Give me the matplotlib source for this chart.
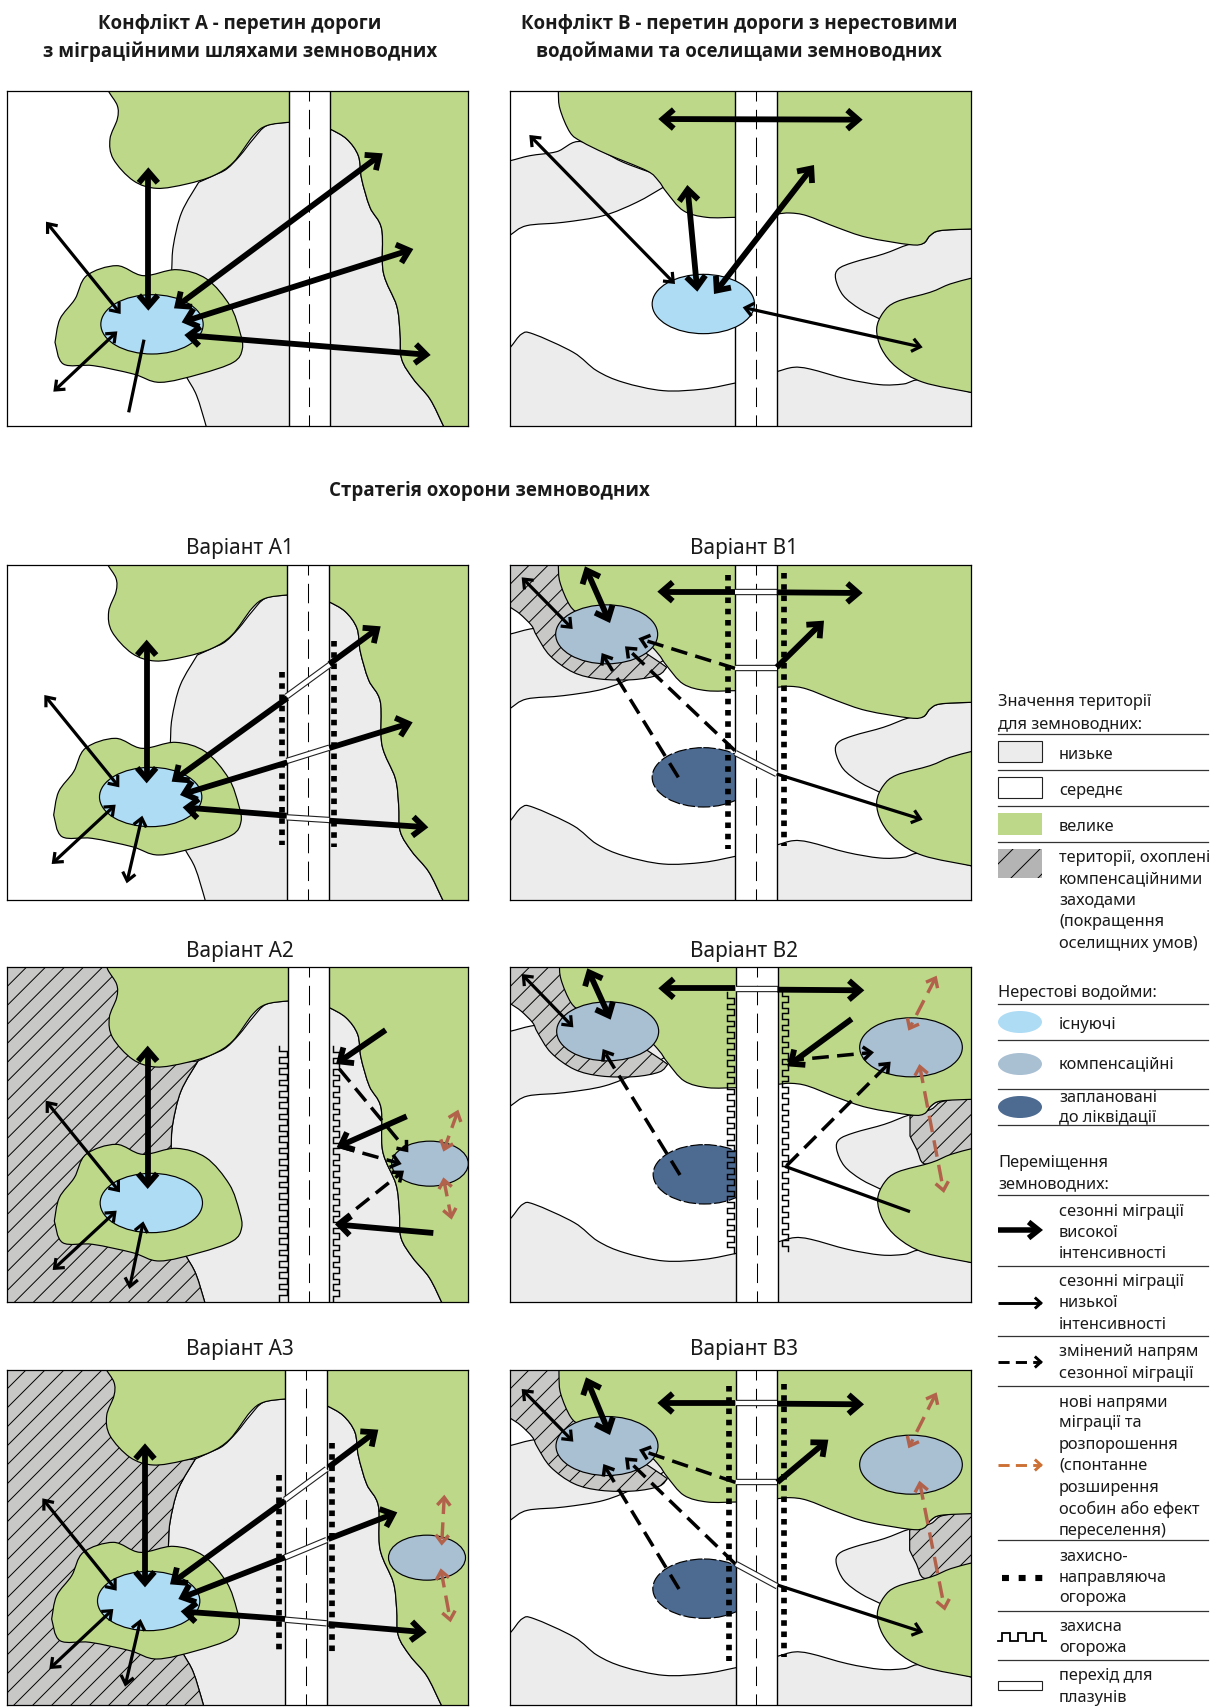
import numpy as np
import matplotlib
matplotlib.use('Agg')
import matplotlib.pyplot as plt
from matplotlib.path import Path
from matplotlib.patches import PathPatch, Ellipse, Rectangle

plt.rcParams['font.family'] = ['Noto Sans', 'DejaVu Sans']
plt.rcParams['lines.scale_dashes'] = False

W, H = 1215, 1708

GREY = '#ececec'
GREEN = '#bcd888'
POND = '#aedcf5'
COMP = '#a9bfd2'
PLANNED = '#4d6a91'
HATCH = '#c8c8c7'
RUST = '#b2624a'
ORANGE = '#cc7035'

# все координати - у пікселях збільшеного (x3) знімка
# контури території, сценарій A
A_GREEN_TOP = [(318, 240), (325, 275), (352, 320), (352, 360), (330, 420), (340, 480), (400, 545), (470, 568),
               (560, 555), (640, 530), (700, 490), (760, 410), (800, 380), (865, 370), (900, 370)]
A_RIGHT_EDGE = [(1345, 1310), (1330, 1280), (1290, 1200), (1240, 1140), (1205, 1080), (1200, 1000), (1190, 920),
                (1150, 820), (1145, 690), (1110, 625), (1085, 540), (1075, 470), (1040, 420), (990, 390), (960, 380)]
A_GREY_TOP = [(900, 370), (865, 370), (800, 380), (760, 420), (720, 470), (680, 510), (640, 530), (596, 550)]
A_GREY_LEFT = [(596, 550), (545, 640), (520, 740), (515, 815), (510, 900), (530, 1080), (560, 1135), (590, 1190),
               (618, 1280), (625, 1310)]
A_POND_GREEN = [(165, 1030), (180, 960), (225, 900), (260, 830), (350, 800), (430, 830), (530, 812), (620, 840),
                (690, 920), (720, 1000), (727, 1050), (700, 1090), (600, 1125), (480, 1150), (400, 1125),
                (280, 1100), (190, 1095), (165, 1030)]
A_POND = (456, 976)
A_ROAD = (866, 990, 928)

# контури території, сценарій B
B_GREEN_TOP = [(205, 190), (205, 275), (210, 330), (240, 400), (275, 428), (350, 465), (470, 515), (505, 545),
               (530, 580), (580, 635), (650, 655), (736, 655), (770, 655)]
B_GREEN_RIGHT = [(830, 648), (860, 645), (900, 642), (950, 650), (1040, 685), (1130, 715), (1260, 737), (1300, 733),
                 (1320, 710), (1350, 695), (1442, 690), (1470, 690)]
B_GREY_TL_UP = [(30, 490), (61, 485), (120, 470), (200, 458), (275, 428), (400, 490), (540, 540)]
B_GREY_TL_LOW = [(518, 566), (440, 610), (340, 650), (220, 670), (110, 680), (61, 708), (30, 730)]
B_GREY_BL = [(30, 1075), (61, 1045), (95, 1005), (130, 1005), (250, 1060), (320, 1115), (400, 1150), (520, 1175),
             (640, 1170), (736, 1152), (770, 1145)]
B_GREY_BR = [(830, 1125), (860, 1118), (910, 1105), (960, 1110), (1070, 1140), (1170, 1157), (1240, 1155),
             (1300, 1143), (1442, 1180), (1470, 1185)]
B_GREY_R = [(1470, 690), (1442, 690), (1350, 695), (1320, 710), (1300, 733), (1255, 737), (1180, 765), (1090, 790),
            (1045, 810), (1037, 840), (1060, 890), (1110, 930), (1170, 960)]
B_GREEN_BR = [(1470, 830), (1442, 838), (1380, 855), (1320, 880), (1220, 908), (1180, 940), (1160, 990), (1175, 1050),
              (1220, 1105), (1300, 1150), (1442, 1180), (1470, 1185)]
B_POND = (640, 915)
B_ROAD = (736, 860, 797)
B_HATCH_TL_UP = [(30, 200), (205, 200), (330, 430), (530, 585)]
B_HATCH_TL_LOW = [(530, 585), (505, 608), (430, 622), (330, 620), (250, 600), (180, 550), (140, 490), (125, 460),
                  (90, 425), (61, 405), (30, 385)]
B_HATCH_R = [(1257, 739), (1320, 720), (1360, 695), (1470, 692), (1470, 830), (1380, 860), (1302, 884), (1277, 840),
             (1257, 800)]

# стрілки: x0, y0, x1, y1, вістря
TOP_A_THICK = [(445, 505, 445, 935, 'both'), (1148, 463, 522, 928, 'both'), (1240, 750, 545, 970, 'both'),
               (1292, 1068, 553, 1008, 'both')]
TOP_A_THIN = [(138, 668, 362, 945, 'both'), (160, 1178, 352, 997, 'both'), (386, 1240, 432, 1022, 'none')]

TOP_B_THICK = [(505, 360, 1118, 362, 'both'), (592, 558, 622, 878, 'both'), (972, 498, 672, 885, 'both')]
TOP_B_THIN = [(118, 408, 555, 855, 'both'), (758, 925, 1298, 1045, 'both')]

A1_THICK = [(440, 272, 440, 703, 'both'), (988, 345, 1142, 232, 'end'), (862, 447, 515, 698, 'end'),
            (988, 597, 1238, 520, 'end'), (862, 640, 540, 738, 'end'), (988, 815, 1285, 835, 'end'),
            (860, 800, 548, 775, 'end')]
A1_THIN = [(133, 438, 358, 715, 'both'), (155, 945, 347, 767, 'both'), (380, 1003, 427, 800, 'both')]
A1_DOTTED = [(845, 370, 888), (1002, 275, 895)]
A1_CROSS = [(860, 442, 990, 347), (860, 636, 988, 596), (860, 805, 988, 813)]

A2_THICK = [(443, 290, 443, 720, 'both'), (1157, 243, 1008, 345, 'end'), (1220, 502, 1010, 595, 'end'),
            (1300, 852, 1005, 826, 'end')]
A2_THIN = [(137, 455, 360, 730, 'both'), (158, 963, 350, 785, 'both'), (388, 1020, 430, 817, 'both')]
A2_DASH = [(1018, 360, 1225, 610, 'end'), (1015, 592, 1205, 645, 'end'), (1010, 826, 1212, 665, 'end')]
A2_RUST = [(1375, 482, 1330, 608, 'both'), (1330, 685, 1355, 812, 'both')]
A2_WAVE = [(838, 860, 290, 1040), (998, 1018, 292, 1042)]
A2_COMP = [(1290, 644, 230, 135)]

A3_THICK = [(435, 283, 435, 715, 'both'), (985, 355, 1135, 242, 'end'), (855, 455, 510, 706, 'end'),
            (985, 570, 1192, 490, 'end'), (855, 625, 535, 750, 'end'), (985, 825, 1280, 850, 'end'),
            (855, 810, 542, 787, 'end')]
A3_THIN = [(127, 448, 350, 725, 'both'), (148, 960, 340, 780, 'both'), (375, 1013, 422, 810, 'both')]
A3_RUST = [(1333, 437, 1325, 590, 'both'), (1322, 658, 1352, 820, 'both')]
A3_DOTTED = [(838, 378, 905), (995, 283, 910)]
A3_CROSS = [(855, 452, 980, 360), (855, 625, 980, 573), (855, 812, 980, 823)]
A3_COMP = [(1281, 626, 231, 135)]

B1_THICK = [(706, 128, 472, 128, 'end'), (830, 130, 1088, 132, 'end'), (255, 52, 330, 222, 'both'),
            (830, 355, 972, 215, 'end')]
B1_THIN = [(65, 85, 218, 240, 'both'), (830, 675, 1268, 812, 'end')]
B1_DASH = [(535, 685, 305, 312, 'end'), (705, 605, 375, 292, 'end'), (705, 358, 415, 268, 'end')]
B1_DOTTED = [(685, 78, 900), (851, 72, 890)]
B1_CROSS = [(706, 128, 830, 128), (706, 358, 830, 358), (706, 612, 830, 675)]
B1_COMP = [(320, 256, 306, 177)]

B2_THICK = [(706, 118, 475, 118, 'end'), (832, 122, 1093, 124, 'end'), (262, 58, 332, 212, 'both'),
            (1055, 210, 862, 352, 'end')]
B2_THIN = [(65, 75, 220, 235, 'both'), (1230, 788, 855, 652, 'none')]
B2_DASH = [(540, 678, 308, 300, 'end'), (860, 650, 1172, 338, 'end'), (862, 335, 1122, 310, 'end')]
B2_RUST = [(1310, 80, 1225, 245, 'both'), (1258, 345, 1332, 732, 'both')]
B2_WAVE = [(680, 702, 130, 910), (845, 865, 125, 905)]
B2_CROSS = [(709, 120, 833, 120)]
B2_COMP = [(323, 247, 306, 177), (1233, 295, 308, 177)]

B3_THICK = [(706, 162, 472, 162, 'end'), (832, 164, 1092, 166, 'end'), (258, 85, 330, 258, 'both'),
            (832, 400, 985, 272, 'end')]
B3_THIN = [(65, 120, 220, 278, 'both'), (832, 708, 1270, 850, 'end')]
B3_DASH = [(537, 720, 310, 345, 'end'), (706, 645, 375, 325, 'end'), (706, 400, 417, 302, 'end')]
B3_RUST = [(1310, 130, 1225, 298, 'both'), (1258, 395, 1335, 785, 'both')]
B3_DOTTED = [(687, 112, 935), (853, 105, 925)]
B3_CROSS = [(708, 163, 832, 163), (708, 400, 832, 400), (708, 645, 832, 712)]
B3_COMP = [(321, 291, 306, 177), (1233, 347, 308, 177)]

TITLE_A = ['Конфлікт А - перетин дороги', 'з міграційними шляхами земноводних']
TITLE_B = ['Конфлікт В - перетин дороги з нерестовими', 'водоймами та оселищами земноводних']
TITLE_MID = 'Стратегія охорони земноводних'

LEG_AREA_HEAD = ['Значення території', 'для земноводних:']
LEG_AREA = ['низьке', 'середнє', 'велике']
LEG_COMP = ['території, охоплені', 'компенсаційними', 'заходами', '(покращення', 'оселищних умов)']
LEG_POND_HEAD = 'Нерестові водойми:'
LEG_MOVE_HEAD = ['Переміщення', 'земноводних:']


def part_verts(pts):
    # крива через точки (Catmull-Rom у вигляді кубічних Безьє)
    pts = np.array(pts, float)
    n = len(pts)
    verts, codes = [pts[0]], [None]
    for i in range(n - 1):
        p0 = pts[max(i - 1, 0)]
        p1 = pts[i]
        p2 = pts[i + 1]
        p3 = pts[min(i + 2, n - 1)]
        verts += [p1 + (p2 - p0) / 6, p2 - (p3 - p1) / 6, p2]
        codes += [Path.CURVE4] * 3
    return verts, codes


def shape(parts, dx=0, dy=0):
    verts, codes = [], []
    for part in parts:
        v, c = part_verts(part)
        c[0] = Path.LINETO if verts else Path.MOVETO
        verts += v
        codes += c
    verts.append(verts[0])
    codes.append(Path.CLOSEPOLY)
    return Path(np.array(verts) + (dx, dy), codes)


def fill(ax, parts, color, dx=0, dy=0, z=1):
    p = PathPatch(shape(parts, dx, dy), facecolor=color, edgecolor='black', lw=0.85, zorder=z)
    ax.add_patch(p)
    return p


def hatch_lines(ax, patch, step, z, lw=0.7):
    x0, x1 = ax.get_xlim()
    y1, y0 = ax.get_ylim()
    for c in np.arange(x0 + y0 - 10 * step, x1 + y1, step):
        ln, = ax.plot([c - y0, c - y1], [y0, y1], color='black', lw=lw, zorder=z)
        ln.set_clip_path(patch)


def arrow(ax, a, w, hl, hw, color='black', dash=None, k=3, z=10):
    x0, y0, x1, y1, heads = a
    p0 = np.array([x0, y0], float)
    p1 = np.array([x1, y1], float)
    u = (p1 - p0) / np.hypot(*(p1 - p0))
    n = np.array([-u[1], u[0]])
    miter = (w / 2) * np.hypot(hl, hw) / hw * k
    lw = w * 0.72
    start, end = p0, p1
    tips = []
    if heads in ('both', 'end'):
        tips.append((p1, u))
        end = p1 - u * miter
    if heads == 'both':
        tips.append((p0, -u))
        start = p0 + u * miter
    ln, = ax.plot([start[0], end[0]], [start[1], end[1]], color=color, lw=lw, zorder=z, solid_capstyle='butt',
                  dash_capstyle='butt')
    if dash:
        ln.set_linestyle(dash)
    for tip, d in tips:
        v = tip - d * miter
        a1 = v - d * hl * k + n * hw * k
        a2 = v - d * hl * k - n * hw * k
        ax.plot([a1[0], v[0], a2[0]], [a1[1], v[1], a2[1]], color=color, lw=lw, zorder=z,
                solid_joinstyle='miter', solid_capstyle='butt')


def wave(ax, xl, xr, y0, y1, step=17, lw=1.05, z=8):
    xs, ys = [], []
    side = 0
    for y in np.arange(y0, y1, step):
        xs += [xl if side == 0 else xr] * 2
        ys += [y, y + step]
        side = 1 - side
    ax.plot(xs, ys, color='black', lw=lw, zorder=z, solid_joinstyle='miter')


def draw_arrows(ax, thick=(), thin=(), dashed=(), rust=()):
    for a in thin:
        arrow(ax, a, 3.2, 8, 6.5)
    for a in dashed:
        arrow(ax, a, 3.5, 8, 6.5, dash=(0, (12, 6)))
    for a in thick:
        arrow(ax, a, 5.8, 11, 9.5)
    for a in rust:
        arrow(ax, a, 3.4, 8, 6.5, color=RUST, dash=(0, (12, 6)))


def make_panel(left, top, xlim, ylim):
    ax = fig.add_axes([left / W, 1 - (top + (ylim[1] - ylim[0]) / 3) / H, (xlim[1] - xlim[0]) / 3 / W,
                       (ylim[1] - ylim[0]) / 3 / H])
    ax.set_xlim(xlim)
    ax.set_ylim(ylim[1], ylim[0])
    ax.set_xticks([])
    ax.set_yticks([])
    ax.autoscale(False)
    for s in ax.spines.values():
        s.set_linewidth(0.9)
        s.set_zorder(30)
    return ax


def road(ax, rd, dx, z=5):
    ax.add_patch(Rectangle((rd[0] + dx, -100), rd[1] - rd[0], 2000, facecolor='white', edgecolor='none', zorder=z))
    ax.axvline(rd[0] + dx, color='black', lw=1.0, zorder=z)
    ax.axvline(rd[1] + dx, color='black', lw=1.0, zorder=z)
    ln = ax.axvline(rd[2] + dx, color='black', lw=0.75, zorder=z)
    ln.set_linestyle((6, (14, 6)))


def fences(ax, dotted=(), waves=(), cross=()):
    for x, y0, y1 in dotted:
        ln, = ax.plot([x, x], [y0, y1], color='black', lw=4.1, zorder=7, dash_capstyle='butt')
        ln.set_linestyle((0, (4.0, 4.1)))
    for xl, xr, y0, y1 in waves:
        wave(ax, xl, xr, y0, y1)
    for x0, y0, x1, y1 in cross:
        ax.plot([x0, x1], [y0, y1], color='#222222', lw=4.6, zorder=9, solid_capstyle='butt')
        ax.plot([x0, x1], [y0, y1], color='white', lw=3.0, zorder=9, solid_capstyle='butt')


def base_a(ax, dx, dy, left_hatch=False):
    corners_top = [(900, 240)]
    fill(ax, [A_RIGHT_EDGE, A_GREY_TOP, A_GREY_LEFT], GREY, dx, dy, z=1)
    if left_hatch:
        p = fill(ax, [[(-20, 240)], [(400, 240)], [(460, 560)], A_GREY_LEFT, [(-20, 1310)]], HATCH, dx, dy, z=2)
        hatch_lines(ax, p, 57, 2.5)
    fill(ax, [A_GREEN_TOP, corners_top], GREEN, dx, dy, z=3)
    fill(ax, [[(1430, 1310)], [(1430, 240)], [(960, 240)], A_RIGHT_EDGE[::-1]], GREEN, dx, dy, z=3)
    fill(ax, [A_POND_GREEN], GREEN, dx, dy, z=3)
    road(ax, A_ROAD, dx)
    ax.add_patch(Ellipse((A_POND[0] + dx, A_POND[1] + dy), 307, 178, facecolor=POND, edgecolor='black', lw=0.85,
                         zorder=6))


def base_b(ax, dx, dy, hatch_tl=False, hatch_r=False, pond='exist'):
    fill(ax, [B_GREY_TL_UP, B_GREY_TL_LOW], GREY, dx, dy, z=1)
    fill(ax, [B_GREY_BL, [(770, 1320)], [(30, 1320)]], GREY, dx, dy, z=1)
    fill(ax, [B_GREY_BR, [(1470, 1320)], [(830, 1320)]], GREY, dx, dy, z=1)
    fill(ax, [B_GREY_R, [(1470, 960)]], GREY, dx, dy, z=1)
    if hatch_tl:
        p = fill(ax, [B_HATCH_TL_UP, B_HATCH_TL_LOW], HATCH, dx, dy, z=2)
        hatch_lines(ax, p, 57, 2.5)
    if hatch_r:
        p = fill(ax, [B_HATCH_R], HATCH, dx, dy, z=2)
        hatch_lines(ax, p, 57, 2.5)
    fill(ax, [B_GREEN_TOP, [(770, 190)]], GREEN, dx, dy, z=3)
    fill(ax, [B_GREEN_RIGHT, [(1470, 190)], [(830, 190)]], GREEN, dx, dy, z=3)
    fill(ax, [B_GREEN_BR], GREEN, dx, dy, z=3)
    road(ax, B_ROAD, dx)
    if pond == 'exist':
        ax.add_patch(Ellipse((B_POND[0] + dx, B_POND[1] + dy), 307, 178, facecolor=POND, edgecolor='black', lw=0.85,
                             zorder=6))
    else:
        e = Ellipse((B_POND[0] + dx, B_POND[1] + dy), 307, 178, facecolor=PLANNED, edgecolor='black', lw=0.85, zorder=4)
        e.set_linestyle((0, (9, 2)))
        ax.add_patch(e)


def comp_ponds(ax, ponds):
    for x, y, w, h in ponds:
        ax.add_patch(Ellipse((x, y), w, h, facecolor=COMP, edgecolor='black', lw=0.85, zorder=6))


fig = plt.figure(figsize=(W / 100, H / 100), dpi=100)
fig.patch.set_facecolor('white')

# підписи та легенда - у пікселях рисунка
bg = fig.add_axes([0, 0, 1, 1])
bg.set_xlim(0, W)
bg.set_ylim(H, 0)
bg.axis('off')
bg.autoscale(False)

TXT = '#1a1a1a'
BOLD = dict(ha='center', va='center', fontsize=13.5, fontweight='bold', color=TXT, family=['Open Sans', 'Noto Sans'])
for x, lines in ((240, TITLE_A), (739, TITLE_B)):
    bg.text(x, 24, lines[0], **BOLD)
    bg.text(x, 52, lines[1], **BOLD)
bg.text(489, 491, TITLE_MID, **BOLD)
for s, x, y in (('Варіант А1', 240, 549), ('Варіант В1', 744, 549), ('Варіант А2', 240, 952), ('Варіант В2', 744, 952),
                ('Варіант А3', 240, 1350), ('Варіант В3', 744, 1350)):
    bg.text(x, y, s, ha='center', va='center', fontsize=15, color=TXT)

# верхні панелі
ax = make_panel(7.33, 91.67, (22, 1404), (275, 1280))
base_a(ax, 0, 0)
draw_arrows(ax, TOP_A_THICK, TOP_A_THIN)

ax = make_panel(510.33, 91.67, (61, 1442), (275, 1280))
base_b(ax, 0, 0)
draw_arrows(ax, TOP_B_THICK, TOP_B_THIN)

# варіанти A
ax = make_panel(7.33, 566, (22, 1404), (48, 1053))
base_a(ax, -4, -232)
fences(ax, dotted=A1_DOTTED, cross=A1_CROSS)
draw_arrows(ax, A1_THICK, A1_THIN)

ax = make_panel(7.33, 968.33, (22, 1404), (55, 1060))
base_a(ax, -2, -214, left_hatch=True)
comp_ponds(ax, A2_COMP)
fences(ax, waves=A2_WAVE)
draw_arrows(ax, A2_THICK, A2_THIN, A2_DASH, A2_RUST)

ax = make_panel(7.33, 1370.67, (22, 1404), (62, 1068))
base_a(ax, -10, -220, left_hatch=True)
comp_ponds(ax, A3_COMP)
fences(ax, dotted=A3_DOTTED, cross=A3_CROSS)
draw_arrows(ax, A3_THICK, A3_THIN, (), A3_RUST)

# варіанти B
ax = make_panel(510.33, 566, (31, 1412), (48, 1053))
base_b(ax, -30, -230, hatch_tl=True, pond='planned')
comp_ponds(ax, B1_COMP)
fences(ax, dotted=B1_DOTTED, cross=B1_CROSS)
draw_arrows(ax, B1_THICK, B1_THIN, B1_DASH)

ax = make_panel(510.33, 968.33, (31, 1412), (55, 1060))
base_b(ax, -27, -239, hatch_tl=True, hatch_r=True, pond='planned')
comp_ponds(ax, B2_COMP)
fences(ax, waves=B2_WAVE, cross=B2_CROSS)
draw_arrows(ax, B2_THICK, B2_THIN, B2_DASH, B2_RUST)

ax = make_panel(510.33, 1370.67, (31, 1412), (62, 1068))
base_b(ax, -28, -196, hatch_tl=True, hatch_r=True, pond='planned')
comp_ponds(ax, B3_COMP)
fences(ax, dotted=B3_DOTTED, cross=B3_CROSS)
draw_arrows(ax, B3_THICK, B3_THIN, B3_DASH, B3_RUST)


# легенда
def ltext(x, y, s):
    bg.text(x, y, s, ha='left', va='center', fontsize=11.8, color=TXT)


def rule(y):
    bg.plot([998, 1208], [y, y], color='#333333', lw=0.9)


LX = 1059
ltext(998, 702, LEG_AREA_HEAD[0])
ltext(998, 724, LEG_AREA_HEAD[1])
for y in (735, 771, 807, 843):
    rule(y)
bg.add_patch(Rectangle((998, 742), 44, 21, facecolor=GREY, edgecolor='#222222', lw=0.8))
ltext(LX, 755, LEG_AREA[0])
bg.add_patch(Rectangle((998, 778), 44, 21, facecolor='white', edgecolor='#222222', lw=0.8))
ltext(LX, 791, LEG_AREA[1])
bg.add_patch(Rectangle((998, 814), 44, 22, facecolor=GREEN, edgecolor='none'))
ltext(LX, 827, LEG_AREA[2])
sw = Rectangle((998, 850), 44, 29, facecolor='#b4b4b4', edgecolor='none')
bg.add_patch(sw)
hatch_lines(bg, sw, 27, 3)
for y, s in zip((858, 879, 900, 922, 944), LEG_COMP):
    ltext(LX, y, s)

ltext(998, 993, LEG_POND_HEAD)
for y in (1005, 1041, 1090, 1126):
    rule(y)
bg.add_patch(Ellipse((1020, 1023), 44, 22, facecolor=POND, edgecolor='none'))
ltext(LX, 1025, 'існуючі')
bg.add_patch(Ellipse((1020, 1065), 44, 22, facecolor=COMP, edgecolor='none'))
ltext(LX, 1064, 'компенсаційні')
bg.add_patch(Ellipse((1020, 1108), 44, 22, facecolor=PLANNED, edgecolor='none'))
ltext(LX, 1098, 'заплановані')
ltext(LX, 1117, 'до ліквідації')

ltext(998, 1163, LEG_MOVE_HEAD[0])
ltext(998, 1184, LEG_MOVE_HEAD[1])
for y in (1196, 1267, 1337, 1387, 1541, 1612, 1661):
    rule(y)

arrow(bg, (998, 1231, 1043, 1231, 'end'), 5.5, 10, 8, k=1)
for y, s in zip((1212, 1233, 1254), ('сезонні міграції', 'високої', 'інтенсивності')):
    ltext(LX, y, s)
arrow(bg, (998, 1304, 1043, 1304, 'end'), 2.9, 6, 5.5, k=1)
for y, s in zip((1282, 1303, 1325), ('сезонні міграції', 'низької', 'інтенсивності')):
    ltext(LX, y, s)
arrow(bg, (998, 1363, 1043, 1363, 'end'), 2.9, 6, 5.5, dash=(0, (8, 4.5)), k=1)
for y, s in zip((1352, 1374), ('змінений напрям', 'сезонної міграції')):
    ltext(LX, y, s)
arrow(bg, (998, 1466, 1043, 1466, 'end'), 2.9, 6, 5.5, color=ORANGE, dash=(0, (8, 4.5)), k=1)
for y, s in zip((1403, 1423, 1445, 1466, 1488, 1509, 1531),
                ('нові напрями', 'міграції та', 'розпорошення', '(спонтанне', 'розширення', 'особин або ефект',
                 'переселення)')):
    ltext(LX, y, s)
ln, = bg.plot([1002, 1046], [1579, 1579], color='black', lw=4.4, dash_capstyle='butt')
ln.set_linestyle((0, (5, 7)))
for y, s in zip((1557, 1578, 1598), ('захисно-', 'направляюча', 'огорожа')):
    ltext(LX, y, s)
xs = [998, 1002, 1002, 1010, 1010, 1018, 1018, 1026, 1026, 1034, 1034, 1042, 1042, 1046]
ys = [1642, 1642, 1634, 1634, 1642, 1642, 1634, 1634, 1642, 1642, 1634, 1634, 1642, 1642]
bg.plot(xs, ys, color='black', lw=1.3, solid_joinstyle='miter')
for y, s in zip((1627, 1648), ('захисна', 'огорожа')):
    ltext(LX, y, s)
bg.add_patch(Rectangle((998, 1682), 44, 8.5, facecolor='white', edgecolor='#222222', lw=0.8))
for y, s in zip((1676, 1698), ('перехід для', 'плазунів')):
    ltext(LX, y, s)

fig.savefig('out.png', dpi=100)
